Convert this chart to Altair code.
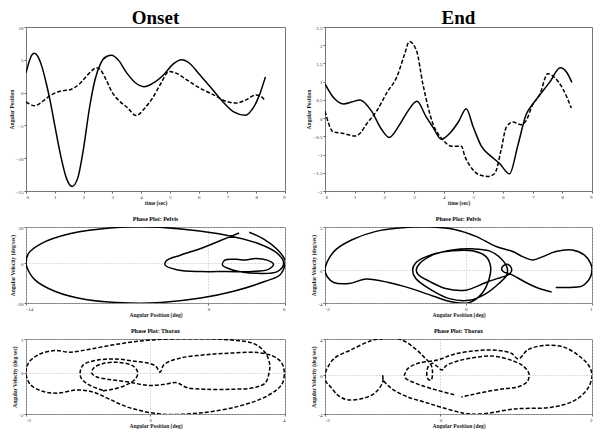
import altair as alt
import pandas as pd

FONT = "Liberation Serif"

# ---------------- Top row: angular position vs time ----------------
onset_solid_t = [0, 0.1, 0.2, 0.29, 0.4, 0.55, 0.7, 0.85, 1.0, 1.2, 1.4, 1.6, 1.8, 2.0, 2.2, 2.4, 2.6, 2.8,
                 2.98, 3.2, 3.5, 3.8, 4.1, 4.4, 4.8, 5.1, 5.41, 5.7, 6.0, 6.4, 6.8, 7.2, 7.62, 7.9, 8.1, 8.32]
onset_solid_y = [3.0, 4.6, 5.7, 6.0, 5.6, 4.0, 1.5, -1.5, -5.0, -9.5, -13.0, -14.3, -13.0, -8.5, -2.5, 2.0, 4.5, 5.5,
                 5.7, 5.0, 3.0, 1.5, 0.9, 1.4, 2.8, 4.3, 5.0, 4.4, 2.9, 0.9, -1.2, -2.9, -3.45, -2.3, -0.5, 2.4]

onset_dash_t = [0, 0.15, 0.3, 0.5, 0.7, 0.9, 1.1, 1.3, 1.5, 1.7, 1.9, 2.1, 2.3, 2.45, 2.6, 2.8, 3.0, 3.2, 3.5,
                3.83, 4.1, 4.4, 4.7, 4.96, 5.2, 5.6, 6.0, 6.5, 7.0, 7.3, 7.6, 8.0, 8.2, 8.32]
onset_dash_y = [-1.4, -1.8, -2.0, -1.6, -0.9, -0.3, 0.1, 0.3, 0.4, 0.8, 1.5, 2.5, 3.4, 3.8, 3.4, 1.8, 0.0, -1.1, -2.2,
                -3.5, -2.5, -0.8, 1.5, 3.2, 3.0, 1.9, 0.8, -0.3, -1.4, -1.6, -1.2, -0.35, -0.7, -1.3]

end_solid_t = [0, 0.3, 0.62, 0.9, 1.18, 1.57, 1.9, 2.16, 2.5, 2.8, 3.1, 3.4, 3.64, 3.92, 4.2, 4.5, 4.76, 5.0,
               5.27, 5.6, 5.89, 6.22, 6.5, 6.78, 7.0, 7.23, 7.57, 7.93, 8.15, 8.32]
end_solid_y = [0.94, 0.55, 0.39, 0.44, 0.5, 0.19, -0.3, -0.53, -0.2, 0.2, 0.46, 0.05, -0.25, -0.58, -0.42, -0.1,
               0.26, -0.25, -0.77, -1.05, -1.25, -1.53, -0.75, 0.1, 0.38, 0.63, 0.98, 1.38, 1.25, 0.98]

end_dash_t = [0, 0.28, 0.62, 1.0, 1.2, 1.4, 1.74, 2.1, 2.41, 2.69, 2.84, 3.08, 3.31, 3.64, 3.98, 4.26, 4.6, 4.71,
              4.88, 5.21, 5.49, 5.72, 5.94, 6.11, 6.33, 6.61, 6.78, 7.0, 7.23, 7.51, 7.74, 8.02, 8.3]
end_dash_y = [0.19, -0.38, -0.42, -0.49, -0.4, -0.16, 0.19, 0.72, 1.11, 1.77, 2.1, 1.86, 0.89, -0.16, -0.6, -0.77,
              -0.77, -1.04, -1.3, -1.56, -1.6, -1.52, -0.86, -0.25, -0.11, -0.18, -0.07, 0.37, 0.63, 1.22, 1.11,
              0.8, 0.28]

time_ticks = list(range(0, 10))
onset_yticks = [-15, -10, -5, 0, 5, 10]
end_yticks = [-2, -1.5, -1, -0.5, 0, 0.5, 1, 1.5, 2, 2.5]

# ---------------- Phase plots: angular velocity vs angular position ----------------
pelvis_onset_pos = [3.2, 4.4, 5.4, 6.0, 6.0, 5.6, 4.4, 1.9, -0.6, -3.7, -6.2, -9.5, -12.0, -13.6, -14.2, -14.3,
                    -14.1, -13.1, -10.8, -7.5, -4.4, -1.6, 1.4, 3.9, 5.4, 5.9, 5.4, 3.9, 1.9, 1.1, 1.3, 2.2, 2.9,
                    3.7, 4.6, 5.1, 4.7, 3.4, 1.4, -0.6, -2.4, -3.4, -3.3, -2.2, -0.6, 0.9, 2.4]
pelvis_onset_vel = [17.1, 13.1, 7.6, 1.8, -0.9, -6.4, -10.0, -15.5, -19.1, -21.5, -21.8, -20.0, -15.5, -9.1, -2.7,
                    0, 5.5, 10.9, 16.4, 19.6, 20.0, 18.5, 15.5, 10.9, 5.5, 0, -4.5, -5.5, -3.6, -0.9, 1.8, 2.2,
                    1.8, 2.7, 1.8, -0.4, -3.3, -4.5, -4.5, -4.5, -3.6, -0.9, 1.5, 4.5, 8.2, 12.4, 16.7]

pelvis_end_pos = [0.935, 0.80, 0.655, 0.51, 0.41, 0.39, 0.41, 0.455, 0.495, 0.495, 0.455, 0.38, 0.22, 0.0, -0.22,
                  -0.40, -0.52, -0.54, -0.50, -0.36, -0.145, 0.07, 0.255, 0.38, 0.45, 0.445, 0.36, 0.22, 0.036,
                  -0.18, -0.40, -0.545, -0.58, -0.54, -0.38, -0.145, 0.07, 0.22, 0.27, 0.255, 0.175, 0.036,
                  -0.145, -0.36, -0.62, -0.84, -1.09, -1.27, -1.44, -1.51, -1.535, -1.51, -1.42, -1.24, -0.98,
                  -0.73, -0.36, -0.11, 0.11, 0.33, 0.51, 0.62, 0.73, 0.84, 0.98, 1.16, 1.29, 1.36, 1.375, 1.35,
                  1.27, 1.09, 0.98]
pelvis_end_vel = [-2.54, -2.15, -1.45, -0.59, -0.20, 0.12, 0.51, 0.66, 0.27, -0.20, -0.59, -0.86, -1.45, -2.34,
                  -2.15, -1.29, -0.51, 0.0, 0.78, 1.76, 2.34, 2.46, 2.23, 1.37, 0.27, -0.59, -1.56, -2.73, -3.52,
                  -3.32, -2.15, -0.98, 0.0, 0.90, 1.76, 2.23, 2.23, 1.56, 0.39, -0.98, -2.73, -3.79, -3.71, -3.01,
                  -2.07, -1.45, -1.05, -1.56, -1.45, -0.78, 0.0, 0.98, 2.34, 3.52, 4.49, 4.88, 5.0, 4.69, 3.91,
                  2.73, 2.15, 1.56, 1.17, 1.56, 2.15, 2.34, 1.76, 0.78, 0.0, -0.98, -1.84, -2.03, -2.03]

thorax_onset_pos = [-1.34, -1.75, -1.95, -1.97, -1.88, -1.52, -0.97, -0.43, -0.06, 0.16, 0.28, 0.39, 0.85, 1.57,
                    2.30, 3.03, 3.48, 3.71, 3.78, 3.71, 3.30, 2.48, 1.39, 0.30, -0.61, -1.15, -1.61, -2.06, -2.61,
                    -3.06, -3.38, -3.5, -3.43, -3.15, -2.70, -2.25, -1.70, -0.88, 0.03, 1.21, 2.30, 2.94, 3.25,
                    3.37, 3.35, 3.25, 2.94, 2.30, 1.57, 1.03, 0.75, 0.39, -0.06, -0.61, -1.15, -1.52, -1.65,
                    -1.59, -1.34, -0.88, -0.47, -0.35, -0.43, -0.70, -1.06, -1.34]
thorax_onset_vel = [-1.03, -0.68, -0.29, 0.10, 0.49, 0.74, 0.82, 0.68, 0.58, 0.39, 0.04, 0.49, 0.87, 1.07, 1.17,
                    1.20, 0.97, 0.58, 0.0, -0.68, -1.36, -1.98, -2.37, -2.43, -2.04, -1.55, -1.13, -1.01, -1.20,
                    -1.07, -0.68, 0.0, 0.58, 1.07, 1.32, 1.22, 1.40, 1.71, 1.94, 2.02, 1.94, 1.71, 1.17, 0.49, 0.0,
                    -0.58, -0.87, -0.97, -0.97, -0.87, -0.58, -0.68, -0.74, -0.54, -0.39, -0.23, 0.0, 0.29, 0.54,
                    0.62, 0.39, 0.0, -0.39, -0.74, -0.97, -1.07]

thorax_end_pos = [0.19, -0.04, -0.27, -0.41, -0.48, -0.50, -0.49, -0.45, -0.31, -0.04, 0.19, 0.52, 0.80, 0.98,
                  1.08, 1.21, 1.44, 1.72, 1.93, 2.05, 2.10, 2.04, 1.86, 1.54, 1.03, 0.56, 0.33, 0.01, -0.22,
                  -0.45, -0.64, -0.73, -0.79, -0.80, -0.80, -0.87, -0.96, -1.10, -1.29, -1.42, -1.52, -1.59,
                  -1.60, -1.57, -1.47, -1.24, -0.96, -0.78, -0.55, -0.36, -0.22, -0.13, -0.11, -0.13, -0.17,
                  -0.19, -0.17, -0.11, -0.04, 0.02, 0.08, 0.24, 0.47, 0.70, 0.89, 1.03, 1.14, 1.21, 1.23, 1.20,
                  1.07, 0.89, 0.66, 0.43, 0.29]
thorax_end_vel = [-2.17, -1.68, -1.12, -0.67, -0.37, -0.07, 0.19, 0.75, 1.31, 1.68, 2.32, 2.73, 2.73, 2.43, 1.79,
                  2.80, 3.29, 3.07, 2.06, 1.12, 0.0, -1.50, -2.80, -3.55, -3.74, -4.30, -4.22, -3.55, -2.99,
                  -2.43, -1.68, -1.12, -0.56, -0.07, -0.75, -1.68, -2.24, -2.62, -2.73, -2.24, -1.31, -0.67, 0.0,
                  0.75, 1.87, 2.80, 3.81, 4.04, 3.93, 2.99, 1.94, 1.12, 0.19, -0.56, -0.45, 0.19, 0.93, 1.31,
                  0.93, 0.56, 1.05, 1.57, 1.94, 2.13, 1.87, 1.50, 1.05, 0.45, 0.0, -0.75, -1.31, -1.50, -1.79,
                  -2.17, -2.43]

# axis extents and tick label texts of the phase plots
pelvis_onset_xdom, pelvis_onset_ydom = [-14.3, 6.0], [-21.8, 20.0]
pelvis_end_xdom, pelvis_end_ydom = [-1.535, 1.375], [-3.83, 5.0]
thorax_onset_xdom, thorax_onset_ydom = [-3.5, 3.8], [-2.43, 2.0]
thorax_end_xdom, thorax_end_ydom = [-1.6, 2.1], [-4.3, 4.0]
pelvis_onset_xlab, pelvis_onset_ylab = ["-14", "0", "6"], ["-20", "0", "20"]
pelvis_end_xlab, pelvis_end_ylab = ["-2", "0", "1"], ["-4", "0", "5"]
thorax_onset_xlab, thorax_onset_ylab = ["-3", "0", "4"], ["-2", "0", "2"]
thorax_end_xlab, thorax_end_ylab = ["-2", "0", "2"], ["-4", "0", "4"]

W_L, W_R = 259, 267
H1, H2, H3 = 164, 76, 75


def label_expr(labels):
    return f"datum.value < 0 ? '{labels[0]}' : (datum.value > 0 ? '{labels[2]}' : '{labels[1]}')"


def ts_panel(title, st, sy, dt, dy, ydom, yticks, width):
    d1 = pd.DataFrame({"t": st, "v": sy})
    d2 = pd.DataFrame({"t": dt, "v": dy})
    x = alt.X("t:Q", scale=alt.Scale(domain=[0, 9], nice=False),
              axis=alt.Axis(values=time_ticks, title="time (sec)", grid=False))
    y = alt.Y("v:Q", scale=alt.Scale(domain=ydom, nice=False),
              axis=alt.Axis(values=yticks, format="~g", title="Angular Position", grid=False))
    solid = alt.Chart(d1).mark_line(color="black", strokeWidth=1.5, interpolate="monotone", clip=True).encode(x=x, y=y)
    dashed = alt.Chart(d2).mark_line(color="black", strokeWidth=1.5, strokeDash=[4, 2], interpolate="monotone",
                                     clip=True).encode(x=x, y=y)
    return alt.layer(solid, dashed).properties(
        width=width, height=H1,
        title=alt.TitleParams(title, font=FONT, fontSize=19, fontWeight="bold", color="black", offset=-3,
                              anchor="middle"))


def phase_panel(title, pos, vel, xdom, ydom, xlab, ylab, dashed, width, height):
    df = pd.DataFrame({"p": pos, "w": vel, "i": list(range(len(pos)))})
    x = alt.X("p:Q", scale=alt.Scale(domain=xdom, nice=False, zero=False),
              axis=alt.Axis(values=[xdom[0], 0, xdom[1]], labelExpr=label_expr(xlab),
                            title="Angular Position (deg)", grid=True, gridColor="#bbbbbb", gridDash=[1, 2]))
    y = alt.Y("w:Q", scale=alt.Scale(domain=ydom, nice=False, zero=False),
              axis=alt.Axis(values=[ydom[0], 0, ydom[1]], labelExpr=label_expr(ylab),
                            title="Angular Velocity (deg/sec)", grid=True, gridColor="#bbbbbb", gridDash=[1, 2]))
    mk = dict(color="black", strokeWidth=1.5, interpolate="catmull-rom", clip=True)
    if dashed:
        mk["strokeDash"] = [4, 2]
    return alt.Chart(df).mark_line(**mk).encode(x=x, y=y, order=alt.Order("i:Q")).properties(
        width=width, height=height,
        title=alt.TitleParams(title, font=FONT, fontSize=6, fontWeight="bold", color="black", offset=3,
                              anchor="middle"))


panels = [
    ts_panel("Onset", onset_solid_t, onset_solid_y, onset_dash_t, onset_dash_y, [-15, 10], onset_yticks, W_L),
    ts_panel("End", end_solid_t, end_solid_y, end_dash_t, end_dash_y, [-2, 2.5], end_yticks, W_R),
    phase_panel("Phase Plot: Pelvis", pelvis_onset_pos, pelvis_onset_vel, pelvis_onset_xdom, pelvis_onset_ydom,
                pelvis_onset_xlab, pelvis_onset_ylab, False, W_L, H2),
    phase_panel("Phase Plot: Pelvis", pelvis_end_pos, pelvis_end_vel, pelvis_end_xdom, pelvis_end_ydom,
                pelvis_end_xlab, pelvis_end_ylab, False, W_R, H2),
    phase_panel("Phase Plot: Thorax", thorax_onset_pos, thorax_onset_vel, thorax_onset_xdom, thorax_onset_ydom,
                thorax_onset_xlab, thorax_onset_ylab, True, W_L, H3),
    phase_panel("Phase Plot: Thorax", thorax_end_pos, thorax_end_vel, thorax_end_xdom, thorax_end_ydom,
                thorax_end_xlab, thorax_end_ylab, True, W_R, H3),
]

chart = alt.concat(*panels, columns=2, spacing={"row": 36, "column": 40}, bounds="flush").properties(
    padding={"left": 0, "top": 0, "right": 0, "bottom": 0}
).configure(background="white", font=FONT).configure_view(
    stroke="#777777", strokeWidth=1
).configure_axis(
    domain=False, tickSize=2, tickColor="#666666", labelFontSize=5, labelColor="#333333", labelPadding=1,
    labelFont=FONT, titleFont=FONT, titleFontSize=5.5, titleFontWeight="bold", titleColor="#222222",
    titlePadding=1
)

chart.save("out.html", embed_options={"renderer": "svg", "actions": False})
